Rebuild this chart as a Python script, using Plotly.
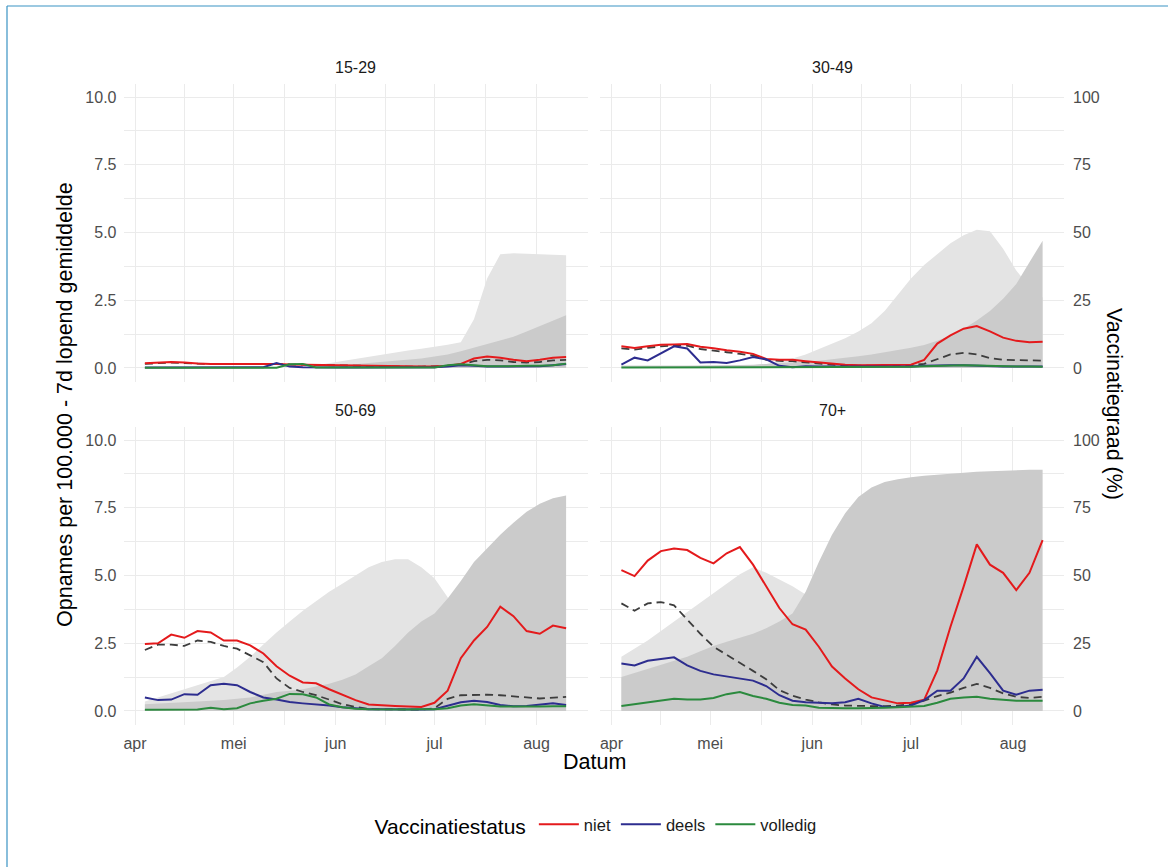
import pandas as pd
import plotly.graph_objects as go

# ---------------- data ----------------
dates = pd.date_range("2021-04-04", periods=33, freq="4D")

panels = ["15-29", "30-49", "50-69", "70+"]

# Opnames per 100.000 (7d lopend gemiddelde)
niet_1529 = [0.17, 0.2, 0.22, 0.2, 0.16, 0.15, 0.15, 0.16, 0.15, 0.15, 0.15, 0.13, 0.12, 0.12, 0.1, 0.1, 0.09,
             0.08, 0.07, 0.07, 0.06, 0.05, 0.05, 0.08, 0.15, 0.35, 0.42, 0.38, 0.3, 0.25, 0.3, 0.38, 0.4]
deels_1529 = [0.02, 0.02, 0.02, 0.02, 0.02, 0.02, 0.02, 0.02, 0.02, 0.03, 0.18, 0.05, 0.03, 0.02, 0.02, 0.02, 0.02,
              0.02, 0.02, 0.02, 0.02, 0.02, 0.03, 0.05, 0.1, 0.08, 0.05, 0.05, 0.06, 0.05, 0.06, 0.1, 0.15]
volledig_1529 = [0.01, 0.01, 0.01, 0.01, 0.01, 0.01, 0.01, 0.01, 0.01, 0.01, 0.01, 0.14, 0.15, 0.02, 0.02, 0.02, 0.02,
                 0.02, 0.02, 0.02, 0.02, 0.02, 0.02, 0.1, 0.14, 0.1, 0.06, 0.06, 0.08, 0.08, 0.08, 0.1, 0.16]
totaal_1529 = [0.15, 0.18, 0.2, 0.18, 0.15, 0.14, 0.14, 0.15, 0.14, 0.14, 0.15, 0.13, 0.12, 0.11, 0.09, 0.09, 0.08,
               0.07, 0.06, 0.06, 0.05, 0.05, 0.05, 0.07, 0.13, 0.25, 0.3, 0.28, 0.22, 0.2, 0.22, 0.28, 0.3]

niet_3049 = [0.8, 0.74, 0.8, 0.86, 0.87, 0.88, 0.78, 0.73, 0.65, 0.6, 0.52, 0.33, 0.3, 0.3, 0.25, 0.2, 0.15,
             0.12, 0.1, 0.1, 0.1, 0.12, 0.12, 0.3, 0.9, 1.2, 1.45, 1.55, 1.35, 1.12, 1.0, 0.95, 0.97]
deels_3049 = [0.12, 0.38, 0.28, 0.55, 0.8, 0.72, 0.2, 0.22, 0.18, 0.28, 0.4, 0.32, 0.08, 0.03, 0.06, 0.05, 0.05,
              0.04, 0.03, 0.03, 0.04, 0.05, 0.05, 0.08, 0.1, 0.1, 0.1, 0.08, 0.06, 0.05, 0.05, 0.05, 0.05]
volledig_3049 = [0.02, 0.02, 0.02, 0.02, 0.02, 0.02, 0.02, 0.02, 0.02, 0.02, 0.02, 0.02, 0.02, 0.02, 0.02, 0.02, 0.02,
                 0.02, 0.02, 0.02, 0.02, 0.02, 0.04, 0.06, 0.08, 0.09, 0.1, 0.09, 0.07, 0.06, 0.05, 0.05, 0.04]
totaal_3049 = [0.72, 0.68, 0.74, 0.8, 0.83, 0.82, 0.7, 0.65, 0.58, 0.52, 0.46, 0.3, 0.26, 0.25, 0.2, 0.16, 0.12,
               0.1, 0.08, 0.08, 0.08, 0.09, 0.1, 0.15, 0.33, 0.5, 0.56, 0.5, 0.36, 0.3, 0.29, 0.27, 0.27]

niet_5069 = [2.47, 2.5, 2.82, 2.7, 2.95, 2.9, 2.6, 2.6, 2.42, 2.12, 1.65, 1.3, 1.05, 1.02, 0.8, 0.6, 0.4,
             0.24, 0.2, 0.18, 0.16, 0.15, 0.3, 0.75, 1.95, 2.6, 3.1, 3.85, 3.5, 2.95, 2.85, 3.15, 3.05]
deels_5069 = [0.5, 0.4, 0.42, 0.62, 0.6, 0.95, 1.0, 0.95, 0.7, 0.5, 0.42, 0.33, 0.28, 0.25, 0.2, 0.14, 0.1,
              0.06, 0.06, 0.05, 0.05, 0.05, 0.06, 0.18, 0.32, 0.38, 0.33, 0.22, 0.17, 0.18, 0.22, 0.28, 0.22]
volledig_5069 = [0.04, 0.04, 0.04, 0.04, 0.05, 0.12, 0.06, 0.1, 0.28, 0.38, 0.45, 0.63, 0.62, 0.5, 0.24, 0.14, 0.08,
                 0.06, 0.05, 0.05, 0.05, 0.06, 0.06, 0.1, 0.2, 0.25, 0.2, 0.16, 0.16, 0.15, 0.16, 0.17, 0.17]
totaal_5069 = [2.25, 2.45, 2.45, 2.4, 2.6, 2.55, 2.4, 2.3, 2.05, 1.8, 1.2, 0.85, 0.7, 0.58, 0.42, 0.25, 0.15,
               0.07, 0.06, 0.05, 0.05, 0.05, 0.1, 0.45, 0.58, 0.6, 0.6, 0.58, 0.55, 0.5, 0.46, 0.48, 0.52]

niet_70 = [5.2, 4.98, 5.55, 5.9, 6.0, 5.94, 5.65, 5.45, 5.82, 6.05, 5.4, 4.6, 3.8, 3.2, 3.0, 2.37, 1.64,
           1.2, 0.8, 0.5, 0.38, 0.28, 0.3, 0.41, 1.5, 3.11, 4.59, 6.15, 5.4, 5.1, 4.46, 5.1, 6.31]
deels_70 = [1.75, 1.68, 1.85, 1.92, 1.98, 1.68, 1.48, 1.35, 1.27, 1.2, 1.12, 0.92, 0.58, 0.38, 0.32, 0.3, 0.28,
            0.32, 0.45, 0.28, 0.15, 0.15, 0.2, 0.4, 0.75, 0.75, 1.2, 2.0, 1.4, 0.75, 0.6, 0.75, 0.78]
volledig_70 = [0.18, 0.25, 0.3, 0.38, 0.45, 0.42, 0.42, 0.48, 0.62, 0.7, 0.55, 0.45, 0.3, 0.22, 0.2, 0.12, 0.1,
               0.1, 0.1, 0.1, 0.12, 0.14, 0.15, 0.18, 0.3, 0.45, 0.5, 0.52, 0.45, 0.42, 0.38, 0.38, 0.38]
totaal_70 = [3.97, 3.7, 3.97, 4.02, 3.9, 3.36, 2.85, 2.37, 2.08, 1.8, 1.48, 1.17, 0.77, 0.56, 0.42, 0.32, 0.24,
             0.2, 0.18, 0.18, 0.18, 0.2, 0.25, 0.38, 0.55, 0.68, 0.85, 1.0, 0.85, 0.65, 0.52, 0.48, 0.52]

# Vaccinatiegraad (%)
pct_deels_1529 = [0, 0, 0, 0, 0, 0, 0, 0, 0, 0, 0, 0, 0, 1, 1.8, 2.6, 3.4,
                  4.2, 5, 5.7, 6.4, 7.1, 7.8, 8.6, 9.5, 18, 33, 42, 42.3, 42.2, 42, 41.8, 41.6]
pct_vol_1529 = [0, 0, 0, 0, 0, 0, 0, 0, 0, 0, 0, 0, 0, 0.3, 0.6, 1, 1.4,
                1.8, 2.2, 2.6, 3, 3.5, 4.2, 5, 6.2, 7.5, 8.8, 10, 11.5, 13.5, 15.5, 17.5, 19.5]

pct_deels_3049 = [1, 1, 1, 1, 1, 1, 1, 1, 1, 1, 1, 1.5, 2.5, 3.5, 5, 7, 9,
                  11, 13.5, 16.5, 21, 27, 33, 38, 42, 46, 49, 51, 50.5, 44, 36, 30, 26]
pct_vol_3049 = [0.5, 0.5, 0.6, 0.6, 0.7, 0.7, 0.8, 0.9, 0.9, 1, 1.2, 1.5, 1.8, 2, 2.3, 2.7, 3.2,
                3.7, 4.3, 5, 5.8, 6.6, 7.5, 8.5, 10, 12, 14.5, 17.5, 21, 25.5, 31, 39, 47]

pct_deels_5069 = [3.5, 5, 6.5, 8, 9.5, 11, 12.5, 16, 20, 24.5, 29, 33, 37, 40.5, 44, 47, 50,
                  53, 55, 56, 56, 53, 49, 42, 33, 27, 22, 18, 15, 12, 10, 9, 8]
pct_vol_5069 = [2.5, 2.7, 3, 3.2, 3.5, 3.8, 4, 4.5, 5, 6, 7, 7.5, 8, 9, 10, 11.5, 13.5,
                16.5, 19.5, 24, 29, 33, 36, 41.5, 48, 55, 60, 65, 69.5, 73.5, 76.5, 78.5, 79.5]

pct_deels_70 = [20, 23, 26, 29.5, 33, 36.5, 40, 43.5, 47, 50.5, 53, 51, 48.5, 46, 43, 38, 32,
                26, 20, 15, 11, 8, 6, 5, 4, 3.5, 3, 2.5, 2.5, 2, 2, 2, 2]
pct_vol_70 = [12.5, 14, 15.5, 17, 18.5, 20, 22, 24, 25.5, 27, 28.5, 30.5, 33, 36, 44, 55, 65,
              73, 79, 82.5, 84.5, 85.5, 86.3, 86.8, 87.2, 87.6, 88, 88.3, 88.5, 88.7, 88.9, 89, 89]

month_ticks = ["2021-04-01", "2021-05-01", "2021-06-01", "2021-07-01", "2021-08-01"]
month_labels = ["apr", "mei", "jun", "jul", "aug"]
minor_ticks = ["2021-04-16", "2021-05-16 12:00", "2021-06-16", "2021-07-16 12:00", "2021-08-16 12:00"]
rate_ticks = [0, 2.5, 5, 7.5, 10]
rate_labels = ["0.0", "2.5", "5.0", "7.5", "10.0"]
pct_ticks = [0, 25, 50, 75, 100]

lines = {
    "15-29": (niet_1529, deels_1529, volledig_1529, totaal_1529),
    "30-49": (niet_3049, deels_3049, volledig_3049, totaal_3049),
    "50-69": (niet_5069, deels_5069, volledig_5069, totaal_5069),
    "70+": (niet_70, deels_70, volledig_70, totaal_70),
}
areas = {
    "15-29": (pct_deels_1529, pct_vol_1529),
    "30-49": (pct_deels_3049, pct_vol_3049),
    "50-69": (pct_deels_5069, pct_vol_5069),
    "70+": (pct_deels_70, pct_vol_70),
}

# ---------------- styling / layout ----------------
W, H = 1168, 867
FONT = "Liberation Sans, Arial, sans-serif"
RED, BLUE, GREEN, DASH = "#e41a1c", "#2d2d8f", "#2b8a3e", "#3d3d3d"
LIGHT, DARK = "#e4e4e4", "#cbcbcb"
GRID = "#ebebeb"
TICKC = "#4d4d4d"


def fx(px):
    return px / W


def fy(py):
    return 1 - py / H


xdom = {0: (fx(123.5), fx(587.5)), 1: (fx(600), fx(1064))}
ydom = {0: (fy(381.5), fy(83.5)), 1: (fy(724.5), fy(426.5))}

fig = go.Figure()
layout = {}

for i, p in enumerate(panels):
    n = i + 1
    row, col = divmod(i, 2)
    xa = "x" if n == 1 else f"x{n}"
    ya = "y" if n == 1 else f"y{n}"
    yo = f"y{n + 4}"

    deel_pct, vol_pct = areas[p]
    fig.add_trace(go.Scatter(x=dates, y=deel_pct, mode="lines", fill="tozeroy",
                             fillcolor=LIGHT, line=dict(width=0, color=LIGHT),
                             showlegend=False, hoverinfo="skip", xaxis=xa, yaxis=ya))
    fig.add_trace(go.Scatter(x=dates, y=vol_pct, mode="lines", fill="tozeroy",
                             fillcolor=DARK, line=dict(width=0, color=DARK),
                             showlegend=False, hoverinfo="skip", xaxis=xa, yaxis=ya))

    niet, deels, vol, tot = lines[p]
    fig.add_trace(go.Scatter(x=dates, y=tot, mode="lines", line=dict(color=DASH, width=1.8, dash="8px,5px"),
                             showlegend=False, xaxis=xa, yaxis=yo))
    for vals, name, colr in ((niet, "niet", RED), (deels, "deels", BLUE), (vol, "volledig", GREEN)):
        fig.add_trace(go.Scatter(x=dates, y=vals, mode="lines", name=name,
                                 line=dict(color=colr, width=2), legendgroup=name,
                                 showlegend=(n == 1), xaxis=xa, yaxis=yo))

    layout[f"xaxis{n}"] = dict(
        domain=list(xdom[col]), anchor=ya,
        range=["2021-03-28 12:00", "2021-08-16 12:00"],
        tickmode="array", tickvals=month_ticks, ticktext=month_labels,
        showticklabels=(row == 1), ticks="", ticklabelstandoff=7,
        tickfont=dict(size=16, color=TICKC, family=FONT),
        showgrid=True, gridcolor=GRID, gridwidth=1.4, zeroline=False, showline=False,
        minor=dict(tickmode="array", tickvals=minor_ticks, showgrid=True, gridcolor=GRID, gridwidth=0.7),
    )
    layout[f"yaxis{n}"] = dict(
        domain=list(ydom[row]), anchor=xa, side="right", range=[-5, 105],
        tickmode="array", tickvals=pct_ticks, ticks="",
        showticklabels=(col == 1), ticklabelstandoff=8,
        tickfont=dict(size=16, color=TICKC, family=FONT),
        showgrid=True, gridcolor=GRID, gridwidth=1.4, zeroline=False, showline=False,
        minor=dict(tickmode="array", tickvals=[12.5, 37.5, 62.5, 87.5], showgrid=True,
                   gridcolor=GRID, gridwidth=0.7),
    )
    layout[f"yaxis{n + 4}"] = dict(
        overlaying=ya, anchor=xa, side="left", range=[-0.5, 10.5],
        tickmode="array", tickvals=rate_ticks, ticktext=rate_labels, ticks="",
        showticklabels=(col == 0), ticklabelstandoff=6,
        tickfont=dict(size=16, color=TICKC, family=FONT),
        showgrid=False, zeroline=False, showline=False,
    )

strip_pos = [(355.5, 67), (832, 67), (355.5, 410), (832, 410)]
annotations = []
for p, (px, py) in zip(panels, strip_pos):
    annotations.append(dict(text=p, x=fx(px), y=fy(py), xref="paper", yref="paper",
                            xanchor="center", yanchor="middle",
                            showarrow=False, font=dict(size=16, color="#1a1a1a", family=FONT)))
annotations += [
    dict(text="Datum", x=fx(594), y=fy(762), xref="paper", yref="paper", showarrow=False,
         xanchor="center", yanchor="middle",
         font=dict(size=21.5, color="#000000", family=FONT)),
    dict(text="Opnames per 100.000 - 7d lopend gemiddelde", x=fx(65), y=fy(405), xref="paper",
         yref="paper", showarrow=False, textangle=-90, xanchor="center", yanchor="middle",
         font=dict(size=21.5, color="#000000", family=FONT)),
    dict(text="Vaccinatiegraad (%)", x=fx(1114), y=fy(404), xref="paper", yref="paper",
         showarrow=False, textangle=90, xanchor="center", yanchor="middle",
         font=dict(size=21.5, color="#000000", family=FONT)),
]

shapes = [
    dict(type="line", xref="paper", yref="paper", x0=fx(7), x1=1.0, y0=fy(6), y1=fy(6),
         line=dict(color="#3a93c3", width=1.2)),
    dict(type="line", xref="paper", yref="paper", x0=fx(7), x1=fx(7), y0=fy(6), y1=0.0,
         line=dict(color="#3a93c3", width=1.2)),
]

fig.update_layout(
    width=W, height=H,
    margin=dict(l=0, r=0, t=0, b=0),
    paper_bgcolor="white", plot_bgcolor="white",
    font=dict(family=FONT),
    annotations=annotations, shapes=shapes,
    legend=dict(orientation="h", x=fx(597), xanchor="center", y=fy(826), yanchor="middle",
                title=dict(text="Vaccinatiestatus", font=dict(size=21, color="#000000", family=FONT), side="left"),
                font=dict(size=16.5, color="#1a1a1a", family=FONT), itemwidth=40,
                bgcolor="rgba(0,0,0,0)"),
    **layout,
)

fig.write_html("out.html", config={"displayModeBar": False},
               post_script="document.body.style.margin='0';document.body.style.overflow='hidden';")
